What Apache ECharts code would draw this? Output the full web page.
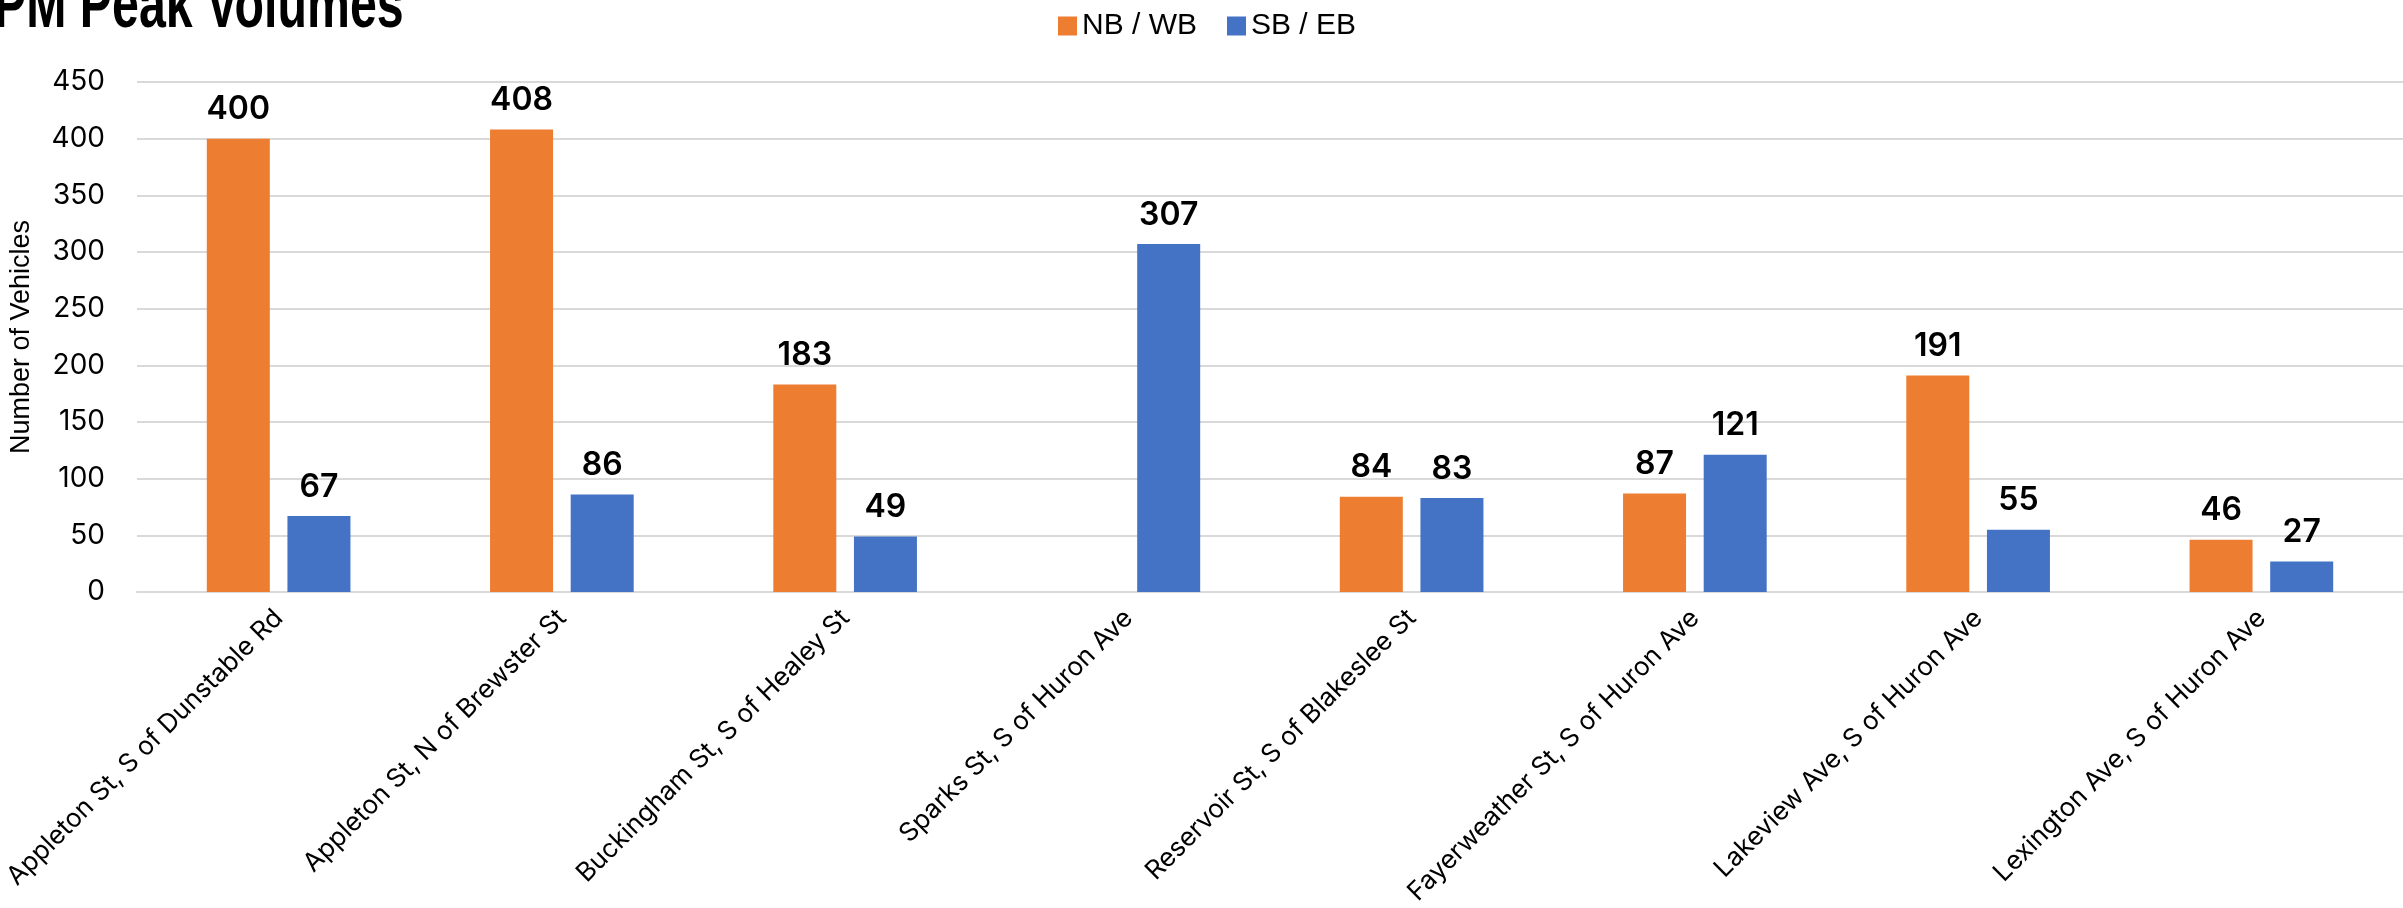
<!DOCTYPE html>
<html>
<head>
<meta charset="utf-8">
<title>PM Peak Volumes</title>
<script src="https://cdn.jsdelivr.net/npm/echarts@6/dist/echarts.min.js"></script>
<style>
  html, body { margin: 0; padding: 0; background: #ffffff; }
  #chart { width: 2403px; height: 908px; }
</style>
</head>
<body>
<div id="chart"></div>
<script>
// Count locations
const locations = [
  'Appleton St, S of Dunstable Rd',
  'Appleton St, N of Brewster St',
  'Buckingham St, S of Healey St',
  'Sparks St, S of Huron Ave',
  'Reservoir St, S of Blakeslee St',
  'Fayerweather St, S of Huron Ave',
  'Lakeview Ave, S of Huron Ave',
  'Lexington Ave, S of Huron Ave'
];

// PM peak vehicle counts by direction (null = no count for that direction)
const nbWb = [400, 408, 183, null, 84, 87, 191, 46];
const sbEb = [67, 86, 49, 307, 83, 121, 55, 27];

const seriesNames = ['NB / WB', 'SB / EB'];
const yTicks = { min: 0, max: 450, interval: 50 };

const ORANGE = '#ED7D31';
const BLUE = '#4472C4';
const SANS = '"Liberation Sans", Arial, sans-serif';
const NUM = 'Inter, "Liberation Sans", sans-serif';

const chart = echarts.init(document.getElementById('chart'), null, { renderer: 'canvas' });

const valueLabel = {
  show: true,
  position: 'top',
  distance: 13,
  color: '#000',
  fontFamily: NUM,
  fontWeight: 600,
  fontSize: 32
};

chart.setOption({
  animation: false,
  backgroundColor: '#ffffff',
  // condensed heading, clipped by the top edge
  graphic: [{
    type: 'text',
    x: -6,
    y: 8,
    scaleX: 0.71,
    style: {
      text: 'PM Peak Volumes',
      font: 'bold 68px "Liberation Sans", Arial, sans-serif',
      fill: '#000',
      align: 'left',
      verticalAlign: 'middle'
    }
  }],
  legend: {
    data: seriesNames,
    left: 1053,
    top: 6,
    itemWidth: 19,
    itemHeight: 19,
    itemGap: 30,
    icon: 'rect',
    textStyle: { fontFamily: SANS, fontSize: 30, color: '#000' }
  },
  grid: {
    left: 131,
    right: 0,
    top: 82,
    bottom: 316,
    containLabel: false
  },
  xAxis: {
    type: 'category',
    data: locations,
    axisLine: { show: true, lineStyle: { color: '#D9D9D9', width: 2 } },
    axisTick: { show: false },
    axisLabel: {
      interval: 0,
      rotate: 45,
      margin: 22,
      fontFamily: NUM,
      fontSize: 26,
      color: '#000'
    }
  },
  yAxis: {
    type: 'value',
    min: yTicks.min,
    max: yTicks.max,
    interval: yTicks.interval,
    name: 'Number of Vehicles',
    nameLocation: 'middle',
    nameGap: 102,
    nameTextStyle: { fontFamily: SANS, fontSize: 27, color: '#000' },
    axisLine: { show: false },
    axisTick: { show: false },
    axisLabel: { margin: 32, fontFamily: NUM, fontSize: 28, color: '#000' },
    splitLine: { show: true, lineStyle: { color: '#D9D9D9', width: 2 } }
  },
  series: [
    {
      name: seriesNames[0],
      type: 'bar',
      data: nbWb,
      barWidth: 63,
      barGap: '28%',
      itemStyle: { color: ORANGE },
      label: valueLabel
    },
    {
      name: seriesNames[1],
      type: 'bar',
      data: sbEb,
      barWidth: 63,
      barGap: '28%',
      itemStyle: { color: BLUE },
      label: valueLabel
    }
  ]
});
</script>
</body>
</html>
